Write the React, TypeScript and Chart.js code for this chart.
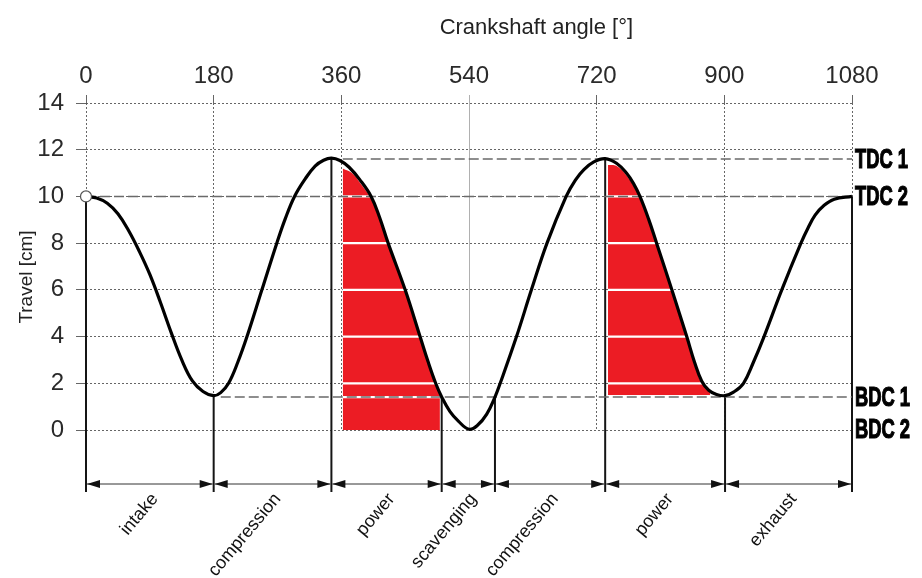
import React, { useEffect, useRef } from 'react';
import { Chart, registerables } from 'chart.js';

Chart.register(...registerables);

// ---------- data ----------
const angleTicks = [0, 180, 360, 540, 720, 900, 1080];
const travelTicks = [0, 2, 4, 6, 8, 10, 12, 14];

const curveAngles = [
  0, 15, 30, 45, 60, 75, 90, 105, 120, 135, 150, 165, 180,
  190, 201, 214, 227, 248, 269, 281, 294, 309, 323, 335, 346,
  358, 371, 386, 402, 414, 426, 450, 471, 482, 493, 502, 513, 525, 540,
  552, 565, 576.6, 584, 607, 628, 650, 677, 690, 702, 716, 732,
  748, 762, 772, 781, 793, 804.5, 826, 847, 858, 868, 878, 889, 901,
  913, 927, 941, 956, 981, 1008, 1018, 1028, 1040, 1055, 1080,
];
const curveTravel = [
  10, 9.93, 9.71, 9.26, 8.54, 7.66, 6.66, 5.46, 4.18, 3.0, 2.1, 1.65, 1.47,
  1.6, 2.0, 2.9, 4.0, 6.0, 8.0, 9.05, 10.0, 10.75, 11.3, 11.55, 11.64,
  11.54, 11.25, 10.72, 10.0, 9.1, 8.0, 6.0, 4.0, 2.95, 2.0, 1.38, 0.8, 0.38, 0.03,
  0.2, 0.68, 1.41, 2.0, 4.0, 6.0, 8.0, 10.0, 10.7, 11.15, 11.48, 11.62,
  11.42, 11.0, 10.55, 10.0, 9.05, 8.0, 6.0, 4.0, 2.9, 2.1, 1.7, 1.52, 1.47,
  1.62, 2.0, 2.9, 4.0, 6.0, 8.0, 8.65, 9.2, 9.6, 9.88, 10,
];

const power1Angles = [362, 375, 386, 402, 414, 426, 450, 471, 482, 493, 499];
const power1Travel = [11.2, 11.0, 10.6, 9.9, 9.0, 7.9, 5.9, 3.9, 2.9, 1.9, 1.5];
const power1Base = 0;

const power2Angles = [736, 748, 762, 772, 781, 793, 804.5, 826, 847, 858, 868, 880];
const power2Travel = [11.35, 11.3, 10.9, 10.45, 9.9, 8.95, 7.9, 5.9, 3.9, 2.8, 2.0, 1.6];
const power2Base = 1.5;

const refLabels = ['TDC 1', 'TDC 2', 'BDC 1', 'BDC 2'];
const refValues = [11.6, 10, 1.41, 0];
const refStarts = [362, 0, 190, 0];

const markerAngles = [0, 180, 346, 501.5, 576.6, 732, 901, 1080];
const markerTravel = [10, 1.47, 11.64, 1.41, 1.41, 11.62, 1.47, 10];
const phaseLabels = ['intake', 'compression', 'power', 'scavenging', 'compression', 'power', 'exhaust'];

const xTitle = 'Crankshaft angle [°]';
const yTitle = 'Travel [cm]';

// ---------- helpers ----------
const FONT = "'Liberation Sans', Arimo, Arial, sans-serif";
const zip = (xs: number[], ys: number[]) => xs.map((x, i) => ({ x, y: ys[i] }));

const decorPlugin = {
  id: 'engineDecor',
  beforeDatasetsDraw(chart: any) {
    const { ctx, chartArea, scales } = chart;
    const x = scales.x, y = scales.y;
    const lineBottom = chartArea.bottom + 62;
    ctx.save();
    ctx.strokeStyle = '#151515';
    ctx.lineWidth = 2;
    ctx.setLineDash([]);
    markerAngles.forEach((a, i) => {
      const px = x.getPixelForValue(a);
      ctx.beginPath();
      ctx.moveTo(px, y.getPixelForValue(markerTravel[i]));
      ctx.lineTo(px, lineBottom);
      ctx.stroke();
    });
    ctx.restore();
  },
  afterDatasetDraw(chart: any, args: any) {
    const ds: any = chart.data.datasets[args.index];
    if (!ds.redStripes) return;
    const meta = chart.getDatasetMeta(args.index);
    const y = chart.scales.y;
    const base = y.getPixelForValue(ds.redBase);
    const p = meta.data;
    const ctx = chart.ctx;
    ctx.save();
    ctx.beginPath();
    ctx.moveTo(p[0].x, base);
    p.forEach((e: any) => ctx.lineTo(e.x, e.y));
    ctx.lineTo(p[p.length - 1].x, base);
    ctx.closePath();
    ctx.clip();
    ctx.strokeStyle = '#ffffff';
    ctx.lineWidth = 2.2;
    ctx.setLineDash([]);
    const left = p[0].x - 3;
    const right = p[p.length - 1].x + 3;
    ds.redStripes.forEach((v: number) => {
      const py = y.getPixelForValue(v);
      ctx.beginPath();
      ctx.moveTo(left, py);
      ctx.lineTo(right, py);
      ctx.stroke();
    });
    ctx.restore();
  },
  afterDraw(chart: any) {
    const { ctx, chartArea, scales } = chart;
    const x = scales.x, y = scales.y;
    const arrowY = chartArea.bottom + 54;
    ctx.save();
    ctx.setLineDash([]);
    for (let i = 0; i < markerAngles.length - 1; i++) {
      const a = x.getPixelForValue(markerAngles[i]) + 1;
      const b = x.getPixelForValue(markerAngles[i + 1]) - 1;
      ctx.strokeStyle = '#333';
      ctx.lineWidth = 1;
      ctx.beginPath();
      ctx.moveTo(a, arrowY);
      ctx.lineTo(b, arrowY);
      ctx.stroke();
      ctx.fillStyle = '#111';
      ctx.beginPath();
      ctx.moveTo(a, arrowY);
      ctx.lineTo(a + 13, arrowY - 4);
      ctx.lineTo(a + 13, arrowY + 4);
      ctx.closePath();
      ctx.fill();
      ctx.beginPath();
      ctx.moveTo(b, arrowY);
      ctx.lineTo(b - 13, arrowY - 4);
      ctx.lineTo(b - 13, arrowY + 4);
      ctx.closePath();
      ctx.fill();
      const mid = (a + b) / 2;
      ctx.save();
      ctx.translate(mid + 5, arrowY + 12);
      ctx.rotate((-50 * Math.PI) / 180);
      ctx.font = `18px ${FONT}`;
      ctx.fillStyle = '#111';
      ctx.textAlign = 'right';
      ctx.textBaseline = 'middle';
      ctx.fillText(phaseLabels[i], 0, 0);
      ctx.restore();
    }
    ctx.font = `bold 27px 'Liberation Sans Narrow', ${FONT}`;
    const sx = 53 / ctx.measureText('TDC 1').width;
    ctx.fillStyle = '#000';
    ctx.strokeStyle = '#000';
    ctx.lineWidth = 1.2;
    ctx.textAlign = 'left';
    ctx.textBaseline = 'middle';
    refLabels.forEach((lab, i) => {
      ctx.save();
      ctx.translate(chartArea.right + 3, y.getPixelForValue(refValues[i]) + 1);
      ctx.scale(sx, 1);
      ctx.fillText(lab, 0, 0);
      ctx.strokeText(lab, 0, 0);
      ctx.restore();
    });
    ctx.fillStyle = '#222';
    ctx.font = `22px ${FONT}`;
    ctx.textAlign = 'center';
    ctx.textBaseline = 'middle';
    ctx.fillText(xTitle, x.getPixelForValue(635), chartArea.top - 75);
    ctx.save();
    ctx.translate(chartArea.left - 59, chartArea.top + 174);
    ctx.rotate(-Math.PI / 2);
    ctx.font = `19px ${FONT}`;
    ctx.fillText(yTitle, 0, 0);
    ctx.restore();
    ctx.restore();
  },
};

export default function App() {
  const ref = useRef<HTMLCanvasElement | null>(null);

  useEffect(() => {
    if (!ref.current) return;
    const refDatasets = refValues
      .map((v, i) => ({ v, i }))
      .filter(({ v }) => v > 0)
      .map(({ v, i }) => ({
        label: refLabels[i],
        data: [
          { x: refStarts[i], y: v },
          { x: 1080, y: v },
        ],
        borderColor: '#6a6a6a',
        borderWidth: 1.5,
        borderDash: [10, 4],
        pointRadius: 0,
        fill: false,
        order: 1,
      }));

    const chart = new Chart(ref.current, {
      type: 'line',
      data: {
        datasets: [
          {
            label: 'Travel',
            data: zip(curveAngles, curveTravel),
            borderColor: '#000',
            borderWidth: 3.2,
            tension: 0.4,
            pointRadius: (c: any) => (c.dataIndex === 0 ? 5.5 : 0),
            pointBackgroundColor: '#fff',
            pointBorderColor: '#555',
            pointBorderWidth: 1.2,
            fill: false,
            clip: false,
            order: 0,
          } as any,
          ...refDatasets,
          {
            label: 'power 1',
            data: zip(power1Angles, power1Travel),
            borderWidth: 0,
            borderColor: 'rgba(0,0,0,0)',
            backgroundColor: '#ec1c24',
            tension: 0.4,
            pointRadius: 0,
            fill: { value: power1Base },
            order: 2,
            redStripes: [2, 4, 6, 8, 10, 1.41],
            redBase: power1Base,
          } as any,
          {
            label: 'power 2',
            data: zip(power2Angles, power2Travel),
            borderWidth: 0,
            borderColor: 'rgba(0,0,0,0)',
            backgroundColor: '#ec1c24',
            tension: 0.4,
            pointRadius: 0,
            fill: { value: power2Base },
            order: 2,
            redStripes: [2, 4, 6, 8, 10],
            redBase: power2Base,
          } as any,
        ],
      },
      options: {
        animation: false,
        responsive: true,
        maintainAspectRatio: false,
        layout: { padding: { left: 0, top: 0, right: 70, bottom: 148 } },
        plugins: { legend: { display: false }, tooltip: { enabled: false } },
        events: [],
        scales: {
          x: {
            type: 'linear',
            position: 'top',
            min: 0,
            max: 1080,
            afterBuildTicks: (s: any) => {
              s.ticks = angleTicks.map((v) => ({ value: v }));
            },
            afterFit: (s: any) => {
              s.height = 103;
            },
            ticks: {
              font: { family: FONT, size: 24 },
              color: '#2a2a2a',
              padding: 4,
              maxRotation: 0,
              callback: (v: any) => String(v),
            },
            grid: {
              color: (c: any) => (c.tick && c.tick.value === 540 ? '#b0b0b0' : 'rgba(85,85,85,0.9)'),
              lineWidth: 1,
              tickLength: 8,
            },
            border: {
              display: false,
              dash: (c: any) => (c.tick && c.tick.value === 540 ? [] : [2, 2]),
            },
          } as any,
          y: {
            type: 'linear',
            min: 0,
            max: 14,
            afterBuildTicks: (s: any) => {
              s.ticks = travelTicks.map((v) => ({ value: v }));
            },
            afterFit: (s: any) => {
              s.width = 86;
            },
            ticks: {
              font: { family: FONT, size: 24 },
              color: '#2a2a2a',
              padding: 12,
              callback: (v: any) => String(v),
            },
            grid: {
              color: 'rgba(85,85,85,0.9)',
              lineWidth: 1,
              tickLength: 10,
            },
            border: { display: false, dash: [2, 2] },
          } as any,
        },
      },
      plugins: [decorPlugin],
    } as any);
    return () => chart.destroy();
  }, []);

  return (
    <div style={{ position: 'absolute', left: 0, top: 0, width: 922, height: 578, background: '#fff' }}>
      <canvas ref={ref} />
    </div>
  );
}
